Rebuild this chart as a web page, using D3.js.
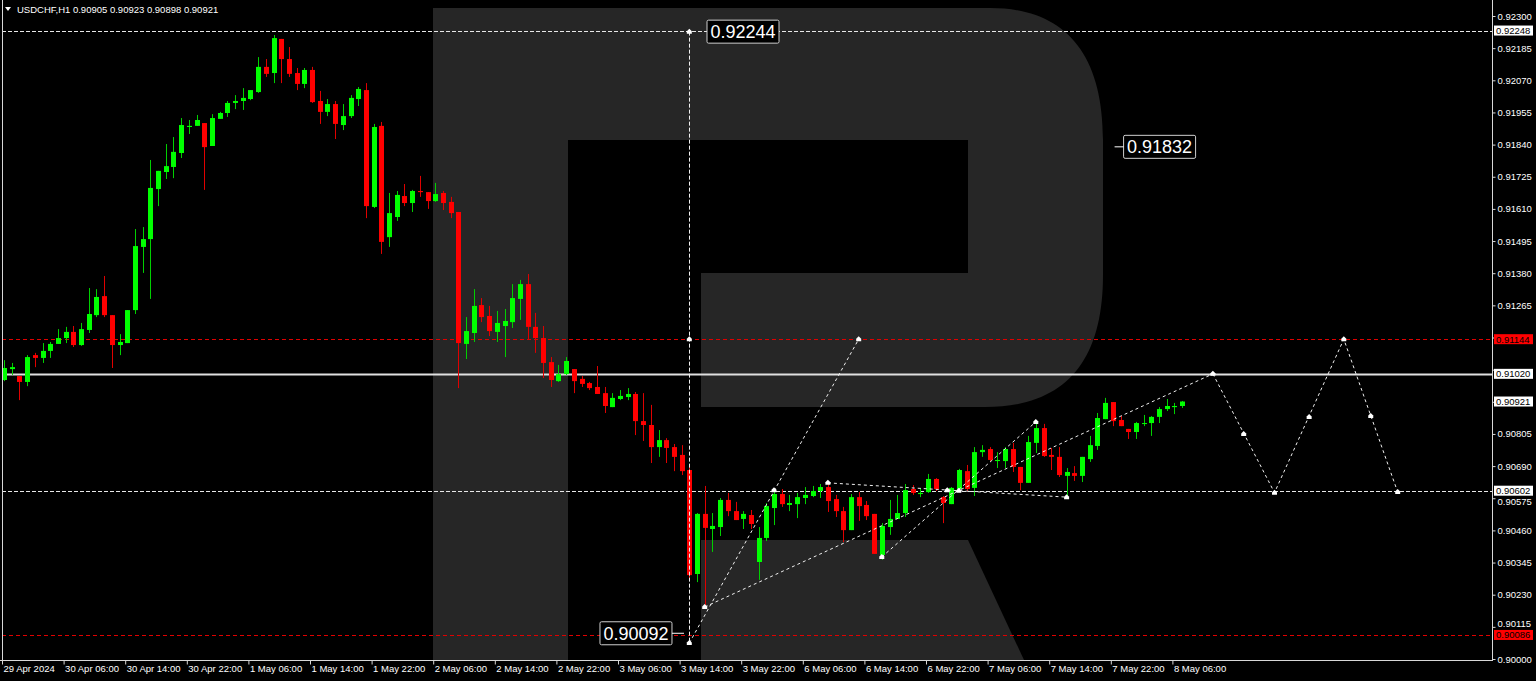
<!DOCTYPE html>
<html><head><meta charset="utf-8">
<script src="https://cdn.jsdelivr.net/npm/d3@7"></script>
<style>
body{margin:0;background:#000;overflow:hidden}
svg{display:block}
text{font-family:"Liberation Sans",Arial,sans-serif}
</style></head><body>
<svg id="c" width="1536" height="681"></svg>
<script>
// ---------- DATA ----------
const symbolTitle = "USDCHF,H1  0.90905 0.90923 0.90898 0.90921";
const opens = [.90998,.91037,.91012,.90991,.91087,.91077,.91102,.91127,.91148,.91170,
.91123,.91177,.91230,.91298,.91230,.91123,.91130,.91248,.91474,.91502,
.91681,.91742,.91760,.91810,.91903,.91907,.91917,.91835,.91932,.91953,
.91989,.91996,.92003,.92028,.92118,.92096,.92218,.92146,.92096,.92057,
.92107,.91996,.91957,.91985,.91910,.91942,.92003,.92035,.91617,.91907,
.91509,.91581,.91656,.91631,.91674,.91670,.91638,.91667,.91635,.91599,
.91127,.91166,.91266,.91227,.91170,.91191,.91205,.91288,.91341,.91188,
.91148,.91062,.90994,.91019,.91037,.91002,.90987,.90973,.90951,.90901,
.90930,.90937,.90948,.90851,.90837,.90758,.90783,.90758,.90730,.90676,
.90304,.90519,.90465,.90472,.90569,.90529,.90501,.90515,.90347,.90433,
.90540,.90590,.90551,.90554,.90576,.90583,.90601,.90615,.90572,.90529,
.90461,.90579,.90551,.90519,.90372,.90472,.90501,.90522,.90608,.90590,
.90597,.90644,.90579,.90554,.90608,.90672,.90612,.90740,.90751,.90708,
.90708,.90751,.90687,.90630,.90773,.90826,.90730,.90723,.90655,.90665,
.90655,.90715,.90762,.90858,.90919,.90855,.90823,.90812,.90841,.90844,
.90866,.90894,.90901,.90905];
const highs = [.91069,.91059,.91012,.91087,.91095,.91130,.91134,.91180,.91188,.91191,
.91202,.91327,.91323,.91370,.91230,.91162,.91248,.91538,.91545,.91785,
.91746,.91842,.91867,.91935,.91928,.91946,.91917,.91949,.91957,.91996,
.92017,.92042,.92035,.92153,.92146,.92232,.92218,.92189,.92114,.92114,
.92118,.92032,.92003,.91996,.91985,.92017,.92046,.92060,.91914,.91921,
.91667,.91674,.91699,.91678,.91728,.91670,.91703,.91674,.91653,.91599,
.91223,.91323,.91291,.91263,.91245,.91252,.91341,.91356,.91377,.91238,
.91191,.91080,.91052,.91080,.91037,.91012,.90991,.91048,.90973,.90951,
.90962,.90969,.90955,.90951,.90909,.90819,.90790,.90769,.90765,.90690,
.90522,.90619,.90522,.90576,.90594,.90562,.90529,.90533,.90472,.90558,
.90604,.90608,.90587,.90594,.90615,.90619,.90626,.90633,.90587,.90544,
.90590,.90597,.90565,.90519,.90486,.90569,.90587,.90626,.90622,.90612,
.90662,.90647,.90583,.90615,.90680,.90694,.90758,.90765,.90758,.90740,
.90758,.90773,.90687,.90798,.90844,.90841,.90755,.90758,.90683,.90690,
.90723,.90798,.90880,.90934,.90919,.90869,.90823,.90848,.90873,.90869,
.90901,.90930,.90916,.90923];
const lows = [.90994,.91016,.90926,.90976,.91044,.91059,.91077,.91127,.91130,.91116,
.91120,.91166,.91223,.91223,.91041,.91087,.91130,.91234,.91381,.91288,
.91620,.91717,.91720,.91792,.91878,.91907,.91678,.91835,.91932,.91939,
.91967,.91964,.91999,.92025,.92082,.92060,.92060,.92082,.92035,.92042,
.91989,.91914,.91942,.91860,.91892,.91935,.91978,.91577,.91613,.91449,
.91474,.91567,.91620,.91599,.91653,.91610,.91635,.91606,.91577,.90969,
.91073,.91134,.91205,.91155,.91134,.91080,.91184,.91213,.91141,.91095,
.91005,.90973,.90991,.91016,.90951,.90973,.90962,.90948,.90880,.90901,
.90926,.90926,.90801,.90780,.90701,.90723,.90701,.90672,.90658,.90290,
.90275,.90186,.90383,.90440,.90511,.90497,.90465,.90465,.90283,.90422,
.90479,.90544,.90529,.90504,.90554,.90579,.90576,.90526,.90508,.90418,
.90461,.90494,.90497,.90376,.90354,.90444,.90501,.90508,.90587,.90579,
.90594,.90601,.90486,.90554,.90604,.90601,.90583,.90723,.90708,.90683,
.90683,.90669,.90604,.90630,.90737,.90723,.90676,.90651,.90579,.90637,
.90633,.90705,.90748,.90858,.90833,.90833,.90787,.90787,.90833,.90798,
.90844,.90887,.90876,.90898];
const closes = [.91041,.91044,.90991,.91080,.91077,.91102,.91127,.91148,.91170,.91123,
.91180,.91234,.91295,.91230,.91123,.91134,.91248,.91477,.91502,.91685,
.91746,.91763,.91814,.91910,.91907,.91928,.91831,.91935,.91953,.91989,
.91996,.92007,.92035,.92118,.92093,.92221,.92146,.92093,.92057,.92107,
.91992,.91957,.91985,.91914,.91942,.92007,.92039,.91620,.91903,.91492,
.91595,.91660,.91631,.91674,.91670,.91638,.91663,.91631,.91595,.91130,
.91173,.91263,.91223,.91173,.91202,.91209,.91291,.91341,.91188,.91148,
.91059,.90998,.91019,.91066,.90994,.90984,.90969,.90948,.90905,.90934,
.90941,.90948,.90851,.90837,.90758,.90783,.90755,.90723,.90672,.90300,
.90519,.90469,.90476,.90569,.90529,.90497,.90519,.90483,.90433,.90547,
.90590,.90554,.90558,.90579,.90587,.90601,.90615,.90565,.90529,.90461,
.90579,.90547,.90511,.90376,.90476,.90501,.90522,.90604,.90594,.90594,
.90644,.90608,.90558,.90612,.90676,.90608,.90740,.90748,.90712,.90712,
.90751,.90687,.90630,.90776,.90826,.90726,.90723,.90658,.90669,.90655,
.90723,.90765,.90862,.90916,.90851,.90833,.90812,.90844,.90844,.90866,
.90894,.90905,.90905,.90921];

const xTickIndex = [0,8,16,24,32,40,48,56,64,72,80,88,96,104,112,120,128,136,144,152];
const xTickLabels = ["29 Apr 2024","30 Apr 06:00","30 Apr 14:00","30 Apr 22:00","1 May 06:00","1 May 14:00","1 May 22:00","2 May 06:00","2 May 14:00","2 May 22:00","3 May 06:00","3 May 14:00","3 May 22:00","6 May 06:00","6 May 14:00","6 May 22:00","7 May 06:00","7 May 14:00","7 May 22:00","8 May 06:00"];
const yTicks = [0.92300,0.92185,0.92070,0.91955,0.91840,0.91725,0.91610,0.91495,0.91380,0.91265,0.91150,0.91035,0.90920,0.90805,0.90690,0.90575,0.90460,0.90345,0.90230,0.90115,0.90000];

// horizontal levels
const levelPrices = [0.92248, 0.91144, 0.91020, 0.90602, 0.90086];
const levelKinds  = ["dashW","dashR","solidW","dashW","dashR"];
// price tags on the axis
const tagPrices = [0.92248, 0.91144, 0.91020, 0.90921, 0.90602, 0.90086];
const tagKinds  = ["w","r","w","w","w","r"];

// analysis lines [startIdx, startPrice, endIdx, endPrice]
const analysisLines = [
  [89, 0.90057, 111, 0.91144],
  [91, 0.90186, 157, 0.91020],
  [114, 0.90365, 134, 0.90848],
  [107, 0.90630, 138, 0.90579]
];
// forecast zigzag
const forecastIdx   = [157, 165, 174, 181];
const forecastPrice = [0.91020, 0.90595, 0.91144, 0.90597];
// vertical measure line
const vLineIdx = 89, vLineTop = 0.92244, vLineBottom = 0.90057;
// point markers
const markerIdx   = [89, 89, 89, 91, 100, 107, 111, 114, 122.5, 124, 134, 138, 157, 161, 165, 169.5, 174, 177.5, 181];
const markerPrice = [0.92244, 0.91144, 0.90057, 0.90186, 0.90604, 0.90630, 0.91144, 0.90365, 0.90604, 0.90602, 0.90848, 0.90579, 0.91020, 0.90805, 0.90595, 0.90866, 0.91144, 0.90869, 0.90597];
// big text labels
const bigLabelText  = ["0.92244", "0.91832", "0.90092"];
const bigLabelIdx   = [91.3, 145.4, 77.4];
const bigLabelPrice = [0.92244, 0.91832, 0.90092];

// ---------- DRAW ----------
const svg = d3.select("#c");
const W = 1536, H = 681;
const plotL = 2, plotR = 1492, plotT = 2, plotB = 660;
const x = d3.scaleLinear().domain([0, 193]).range([4, 4 + 7.7 * 193]);
const y = d3.scaleLinear().domain([0.90000, 0.92300]).range([659, 16]);

svg.append("rect").attr("width", W).attr("height", H).attr("fill", "#000");

// watermark logo
const g0 = svg.append("g").attr("fill", "#262626");
g0.append("path").attr("d",
  "M433,8 L990,8 C1062,8 1103,50 1103,140 L1103,275 C1103,362 1065,407 985,407 L701,407 L701,273 L968,273 L968,140 L568,140 L568,660 L433,660 Z");
g0.append("path").attr("d", "M701,540 L968,540 L1024,660 L701,660 Z");

// level lines
const lvl = svg.append("g");
levelPrices.forEach((p, i) => {
  const k = levelKinds[i];
  const l = lvl.append("line").attr("x1", plotL).attr("x2", plotR)
    .attr("y1", Math.round(y(p)) + 0.5).attr("y2", Math.round(y(p)) + 0.5);
  if (k === "dashW") l.attr("stroke", "#e8e8e8").attr("stroke-dasharray", "4,2");
  else if (k === "dashR") l.attr("stroke", "#e00000").attr("stroke-dasharray", "4,3");
  else l.attr("stroke", "#e0e0e0").attr("stroke-width", 2);
});

// candles
const n = opens.length;
const cg = svg.append("g");
for (let i = 0; i < n; i++) {
  const up = closes[i] >= opens[i];
  const cx = Math.round(x(i)) + 0.5;
  const col = up ? "#00ff00" : "#ff0000";
  const wcol = up ? "#00d000" : "#e00000";
  cg.append("line").attr("x1", cx).attr("x2", cx)
    .attr("y1", y(highs[i])).attr("y2", y(lows[i]))
    .attr("stroke", wcol).attr("stroke-width", 1);
  const top = y(Math.max(opens[i], closes[i]));
  const bot = y(Math.min(opens[i], closes[i]));
  cg.append("rect").attr("x", cx - 2.5).attr("width", 5)
    .attr("y", top).attr("height", Math.max(1, bot - top))
    .attr("fill", col);
}

// analysis lines
const ag = svg.append("g").attr("stroke", "#f0f0f0").attr("stroke-dasharray", "3,3").attr("fill", "none");
analysisLines.forEach(a => {
  ag.append("line").attr("x1", x(a[0])).attr("y1", y(a[1])).attr("x2", x(a[2])).attr("y2", y(a[3]));
});
ag.append("path").attr("d", d3.line().x(d => x(d[0])).y(d => y(d[1]))(forecastIdx.map((d, i) => [d, forecastPrice[i]])));
ag.append("line").attr("x1", Math.round(x(vLineIdx)) + 0.5).attr("x2", Math.round(x(vLineIdx)) + 0.5)
  .attr("y1", y(vLineTop)).attr("y2", y(vLineBottom)).attr("stroke-dasharray", "4,2");

// markers
const mg = svg.append("g").attr("fill", "#ffffff");
markerIdx.forEach((d, i) => {
  const mx = x(d), my = y(markerPrice[i]);
  mg.append("path").attr("transform", `translate(${mx},${my})`)
    .attr("d", "M-2.5,2 L-2.5,-0.5 L0,-3 L2.5,-0.5 L2.5,2 Z");
});

// big labels
bigLabelText.forEach((t, i) => {
  const cx = x(bigLabelIdx[i]) + 36, cy = y(bigLabelPrice[i]);
  svg.append("rect").attr("x", cx - 36).attr("y", cy - 11.5).attr("width", 72).attr("height", 23)
    .attr("rx", 1.5).attr("fill", "#000").attr("stroke", "#cfcfcf").attr("stroke-width", 1);
  svg.append("text").attr("x", cx).attr("y", cy).attr("dy", "0.35em")
    .attr("text-anchor", "middle").attr("fill", "#fff").attr("font-size", 18).text(t);
});
// small connector strokes next to labels
svg.append("line").attr("x1", x(bigLabelIdx[1]) - 9).attr("x2", x(bigLabelIdx[1]))
  .attr("y1", y(bigLabelPrice[1])).attr("y2", y(bigLabelPrice[1])).attr("stroke", "#fff");
svg.append("line").attr("x1", x(bigLabelIdx[2]) + 72).attr("x2", x(bigLabelIdx[2]) + 84)
  .attr("y1", y(bigLabelPrice[2])).attr("y2", y(bigLabelPrice[2])).attr("stroke", "#fff");

// frame
svg.append("line").attr("x1", plotL + 0.5).attr("x2", plotL + 0.5).attr("y1", 0).attr("y2", plotB).attr("stroke", "#d8d8d8");

// y axis (labels hidden behind a price tag are left blank, as in the terminal)
const hiddenByTag = v => tagPrices.some(p => Math.abs(p - v) < 0.0002);
const ya = svg.append("g").attr("transform", `translate(${plotR + 0.5},0)`)
  .call(d3.axisRight(y).tickValues(yTicks)
    .tickFormat(v => hiddenByTag(v) ? "" : d3.format(".5f")(v)).tickSize(3).tickPadding(2));
ya.select(".domain").attr("stroke", "#d8d8d8").attr("d", `M0,0V${plotB}`);
ya.selectAll(".tick line").attr("stroke", "#d8d8d8");
ya.selectAll("text").attr("fill", "#fff").attr("font-size", 9.5).attr("font-family", "Liberation Sans, Arial, sans-serif");
// nudge labels that sit right next to a tag so they stay readable
ya.selectAll(".tick text").attr("y", v => {
  const near = tagPrices.find(p => Math.abs(p - v) >= 0.0002 && Math.abs(p - v) < 0.00035);
  if (near === undefined) return 0;
  return near > v ? 3 : -3;
});

// x axis
const xa = svg.append("g").attr("transform", `translate(-2,${plotB + 0.5})`)
  .call(d3.axisBottom(x).tickValues(xTickIndex).tickFormat((d, i) => xTickLabels[i]).tickSize(4).tickPadding(1));
xa.select(".domain").remove();
xa.selectAll(".tick line").attr("stroke", "#d8d8d8");
xa.selectAll("text").attr("fill", "#fff").attr("font-size", 9.5).attr("text-anchor", "start").attr("dx", 1)
  .attr("font-family", "Liberation Sans, Arial, sans-serif");
svg.append("line").attr("x1", 0).attr("x2", plotR + 1).attr("y1", plotB + 0.5).attr("y2", plotB + 0.5).attr("stroke", "#d8d8d8");

// price tags
tagPrices.forEach((p, i) => {
  const ty = y(p);
  const red = tagKinds[i] === "r";
  svg.append("rect").attr("x", plotR + 2).attr("y", ty - 5).attr("width", 39).attr("height", 10)
    .attr("fill", red ? "#ff0000" : "#fff");
  svg.append("text").attr("x", plotR + 4).attr("y", ty).attr("dy", "0.35em")
    .attr("font-size", 9.5).attr("fill", "#000").text(d3.format(".5f")(p));
});

// header
svg.append("path").attr("d", "M5,7 L11,7 L8,11 Z").attr("fill", "#fff");
svg.append("text").attr("x", 17).attr("y", 13).attr("font-size", 9.5).attr("fill", "#fff").text(symbolTitle);
</script>
</body></html>
